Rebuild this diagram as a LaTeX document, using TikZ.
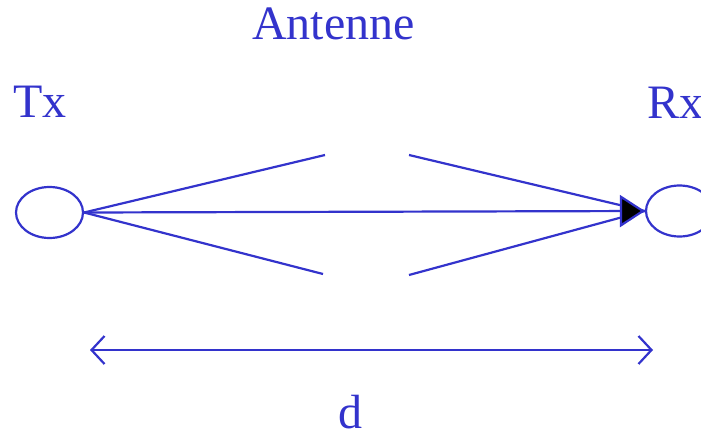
\documentclass[tikz,border=0pt]{standalone}
\usepackage{fontspec}
\setmainfont{Liberation Serif}
\usetikzlibrary{arrows.meta,shapes.geometric}
\definecolor{antblue}{RGB}{51,51,204}

\begin{document}
\begin{tikzpicture}[x=1pt,y=-1pt,line width=2.2pt,antblue,
    lbl/.style={font=\fontsize{48}{52}\selectfont,text=antblue,inner sep=0pt,anchor=base west},
    station/.style={ellipse,draw,minimum width=67pt,minimum height=51pt,inner sep=0pt}]
  \useasboundingbox (0,0) rectangle (701,434);
  \node[lbl] (ant) at (251,39) {Antenne};
  \node[lbl] (txl) at (12,117) {Tx};
  \node[lbl] (rxl) at (646,118) {Rx};
  \node[station] (tx) at (49.5,212.5) {};
  \node[station] (rx) at (679.5,211) {};
  % antenna beams
  \coordinate (ul) at (325,155);
  \coordinate (ll) at (323,274);
  \coordinate (ur) at (409,155);
  \coordinate (lr) at (409,275);
  \draw (tx.east) -- (ul);
  \draw (tx.east) -- (ll);
  \draw (ur) -- (rx.west);
  \draw (lr) -- (rx.west);
  \draw[-{Triangle[length=25pt,width=32pt,fill=black]}] (tx.east) -- (rx.west);
  % distance
  \coordinate (dl) at (90,350);
  \coordinate (dr) at (653,350);
  \draw[{Straight Barb[length=13pt,width=28pt]}-{Straight Barb[length=13pt,width=28pt]}] (dl) -- (dr);
  \node[lbl] (dist) at (337,428) {d};
\end{tikzpicture}
\end{document}
